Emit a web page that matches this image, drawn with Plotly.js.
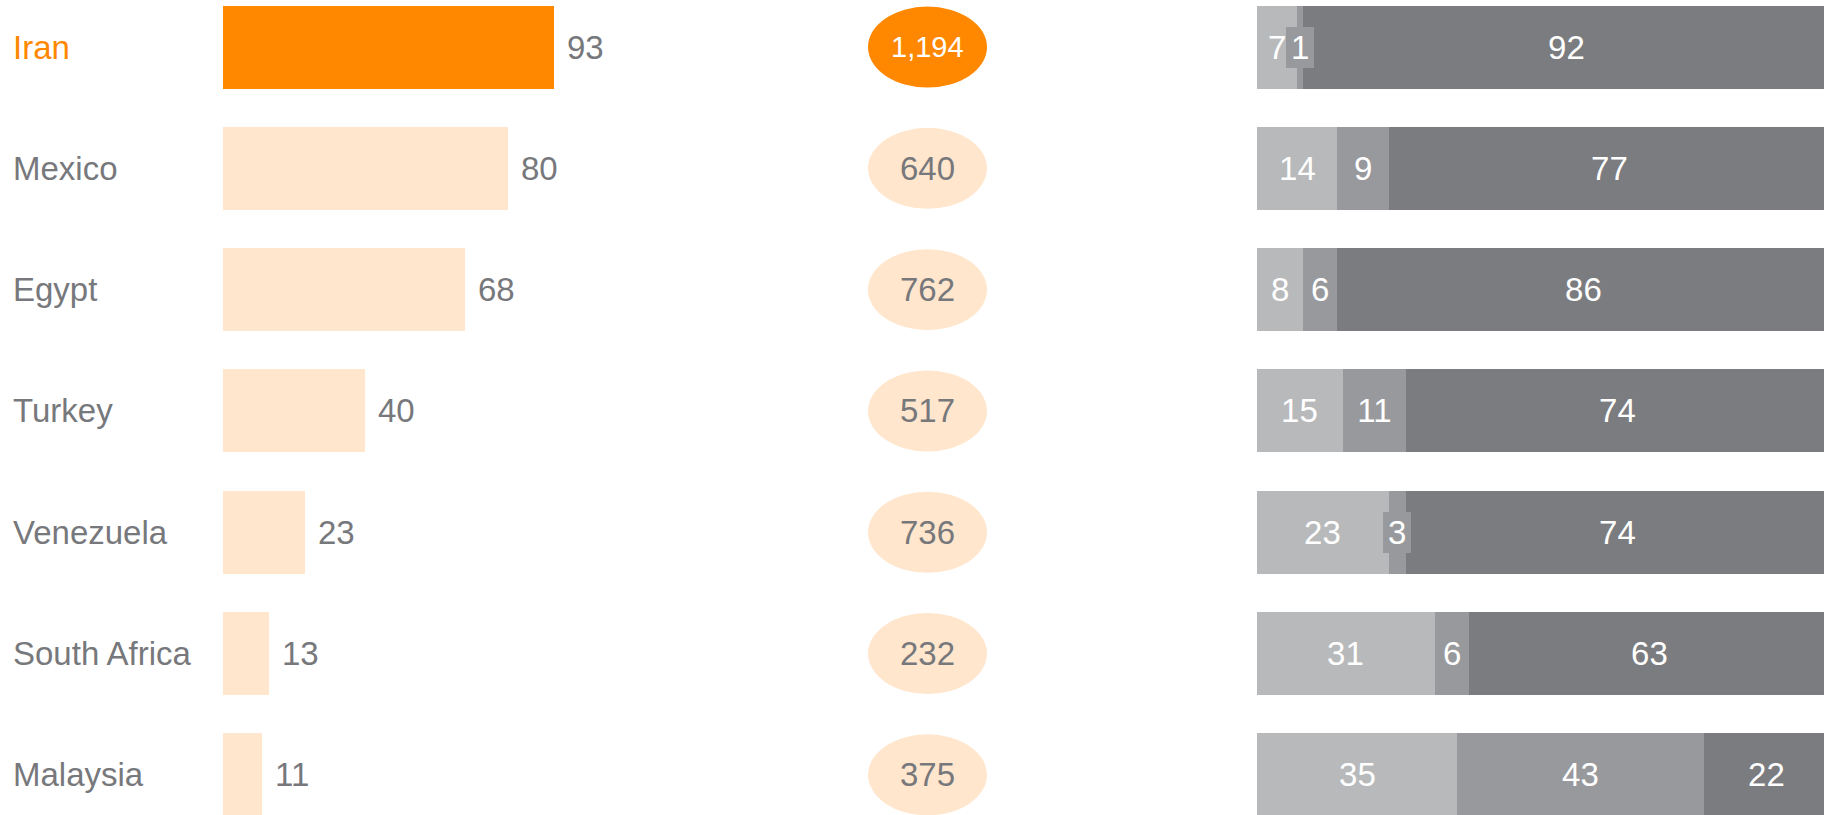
<!DOCTYPE html>
<html>
<head>
<meta charset="utf-8">
<script src="https://cdn.plot.ly/plotly-3.0.1.min.js"></script>
<style>
  html, body { margin: 0; padding: 0; background: #ffffff; overflow: hidden; }
  #chart { width: 1824px; height: 815px; }
</style>
</head>
<body>
<div id="chart"></div>
<script>
// ---- data ----
const countries = ['Iran', 'Mexico', 'Egypt', 'Turkey', 'Venezuela', 'South Africa', 'Malaysia'];
const shareValues = [93, 80, 68, 40, 23, 13, 11];
const counts = [1194, 640, 762, 517, 736, 232, 375];
const segLight = [7, 14, 8, 15, 23, 31, 35];
const segMid = [1, 9, 6, 11, 3, 6, 43];
const segDark = [92, 77, 86, 74, 74, 63, 22];
const highlight = 'Iran';

// ---- styles ----
const FONT = '"Liberation Sans", Arial, sans-serif';
const FS = 33;
const ORANGE = '#FF8800';
const PEACH = '#FFE6CC';
const GRAY_TXT = '#77787C';
const C_LIGHT = '#B8B9BB';
const C_MID = '#98999D';
const C_DARK = '#7B7C80';
const BAR_W = 0.684;
const W = 1824, H = 815;

const isHi = countries.map(c => c === highlight);

const traces = [];
traces.push({
  type: 'bar', orientation: 'h', x: shareValues, y: countries,
  xaxis: 'x', yaxis: 'y', width: BAR_W,
  marker: { color: isHi.map(h => h ? ORANGE : PEACH) },
  hoverinfo: 'skip'
});
const segs = [[segLight, C_LIGHT], [segMid, C_MID], [segDark, C_DARK]];
segs.forEach(([vals, col]) => {
  traces.push({
    type: 'bar', orientation: 'h', x: vals, y: countries,
    xaxis: 'x2', yaxis: 'y', width: BAR_W,
    marker: { color: col, line: { width: 0 } },
    hoverinfo: 'skip'
  });
});

const annotations = [];
const shapes = [];
countries.forEach((c, i) => {
  // country label
  annotations.push({
    xref: 'paper', yref: 'y', x: 11 / W, y: i, xanchor: 'left', yanchor: 'middle',
    text: c, showarrow: false,
    font: { family: FONT, size: FS, color: isHi[i] ? ORANGE : GRAY_TXT }
  });
  // value label
  annotations.push({
    xref: 'x', yref: 'y', x: shareValues[i], y: i, xanchor: 'left', yanchor: 'middle',
    xshift: 11, text: String(shareValues[i]), showarrow: false,
    font: { family: FONT, size: FS, color: GRAY_TXT }
  });
  // ellipse
  shapes.push({
    type: 'circle', xref: 'paper', yref: 'y',
    x0: 868 / W, x1: 987 / W, y0: i - 0.334, y1: i + 0.334,
    fillcolor: isHi[i] ? ORANGE : PEACH, line: { width: 0 }, layer: 'above'
  });
  const countTxt = counts[i].toLocaleString('en-US');
  annotations.push({
    xref: 'paper', yref: 'y', x: 927 / W, y: i, xanchor: 'center', yanchor: 'middle',
    text: countTxt, showarrow: false,
    font: { family: FONT, size: countTxt.length > 3 ? 29 : FS, color: isHi[i] ? '#ffffff' : GRAY_TXT }
  });
  // stacked segment labels
  let base = 0;
  segs.forEach(([vals, col]) => {
    const v = vals[i];
    const t = String(v);
    annotations.push({
      xref: 'x2', yref: 'y', x: base + v / 2, y: i, xanchor: 'center', yanchor: 'middle',
      text: t, showarrow: false,
      width: 18.4 * t.length + 10, height: 41,
      bgcolor: col, borderwidth: 0, borderpad: 0,
      font: { family: FONT, size: FS, color: '#ffffff' }
    });
    base += v;
  });
});

const layout = {
  width: W, height: H,
  margin: { l: 0, r: 0, t: 0, b: 0, pad: 0 },
  paper_bgcolor: '#ffffff', plot_bgcolor: 'rgba(0,0,0,0)',
  showlegend: false, barmode: 'stack',
  font: { family: FONT, size: FS, color: GRAY_TXT },
  xaxis: { domain: [223 / W, 623 / W], range: [0, 400 / 3.56], visible: false, fixedrange: true },
  xaxis2: { domain: [1257 / W, 1], range: [0, 99], visible: false, fixedrange: true, anchor: 'y' },
  yaxis: {
    type: 'category', categoryarray: countries, categoryorder: 'array',
    range: [6.331, -0.388], visible: false, fixedrange: true
  },
  shapes: shapes,
  annotations: annotations
};

Plotly.newPlot('chart', traces, layout, { staticPlot: true, displayModeBar: false });
</script>
</body>
</html>
